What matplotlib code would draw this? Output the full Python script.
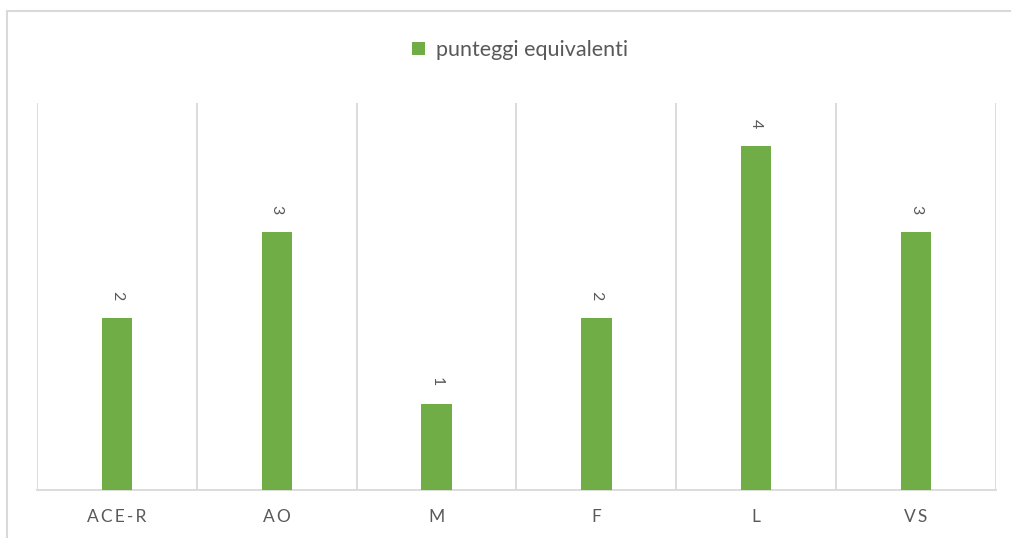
import matplotlib
matplotlib.use('Agg')
import matplotlib.pyplot as plt
from matplotlib.patches import Rectangle
import numpy as np

# data
categories = ['ACE-R', 'AO', 'M', 'F', 'L', 'VS']
scores = [2, 3, 1, 2, 4, 3]
series_name = 'punteggi equivalenti'

GREEN = '#70AD47'
GRID = '#D9D9D9'
TEXT = '#595959'
plt.rcParams['font.family'] = ['Lato', 'DejaVu Sans']

W, H = 1011, 538
fig = plt.figure(figsize=(W / 100, H / 100), dpi=100)

# chart border, cut off at right and bottom
fig.patches.append(Rectangle((7 / W, -0.1), 1.2, 1 - 11 / H + 0.1,
                             transform=fig.transFigure, fill=False,
                             edgecolor=GRID, linewidth=1.5))

ax = fig.add_axes([37 / W, 1 - 490 / H, (996 - 37) / W, (490 - 103) / H])
x = np.arange(len(categories))
bars = ax.bar(x, scores, width=0.19, color=GREEN, label=series_name, zorder=3)

ax.set_xlim(-0.5, len(categories) - 0.5)
ax.set_ylim(0, 4.5)

# vertical separators between categories
for b in np.arange(len(categories) + 1) - 0.5:
    ax.axvline(b, color=GRID, linewidth=1.3, zorder=1)

for s in ['top', 'right', 'left']:
    ax.spines[s].set_visible(False)
ax.spines['bottom'].set_color(GRID)
ax.spines['bottom'].set_linewidth(1.3)
ax.set_yticks([])
ax.set_xticks(x)
# spaced-out category letters
ax.set_xticklabels(['\u2009'.join(c) for c in categories], color=TEXT, fontsize=12.5)
ax.tick_params(axis='x', length=0, pad=14)

# value labels, rotated
for xi, v in zip(x, scores):
    ax.annotate(str(v), (xi, v), xytext=(0, 13), textcoords='offset points',
                rotation=-90, ha='center', va='bottom', color=TEXT, fontsize=11.5)

leg = fig.legend(handles=[bars], labels=[series_name], loc='center',
                 bbox_to_anchor=(520 / W, 1 - 50 / H), frameon=False,
                 fontsize=15.5, handlelength=0.6, handleheight=0.6,
                 handletextpad=0.5, labelcolor=TEXT)

fig.savefig('out.png', dpi=100)
